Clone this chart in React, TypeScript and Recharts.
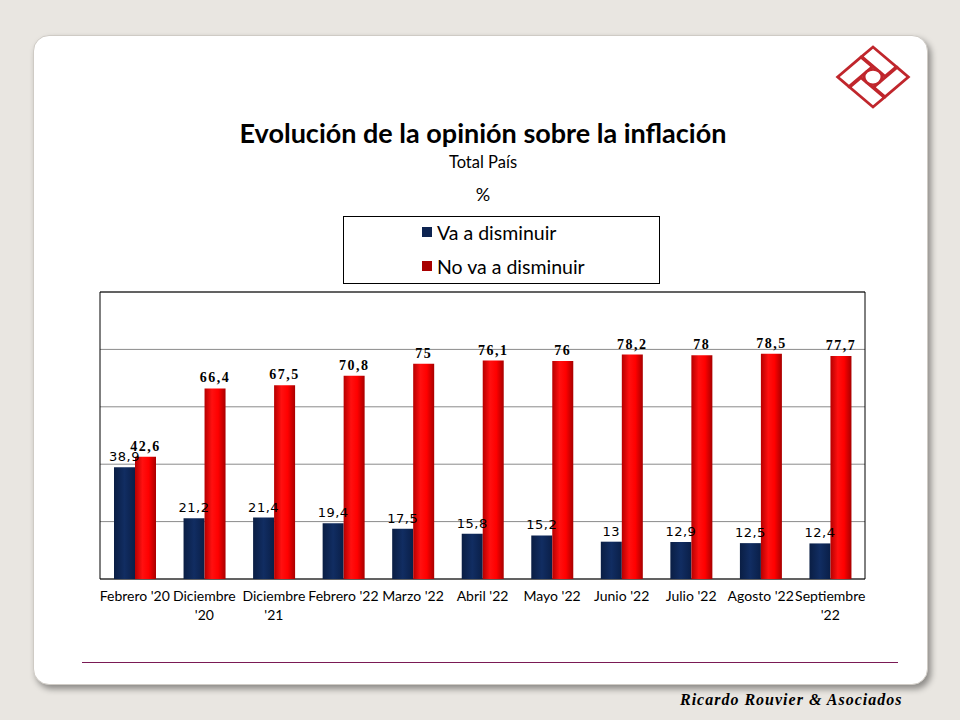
import React from "react";
import { BarChart, Bar, XAxis, YAxis, CartesianGrid, LabelList, ReferenceArea } from "recharts";

const categories = ["Febrero '20", "Diciembre '20", "Diciembre '21", "Febrero '22", "Marzo '22", "Abril '22", "Mayo '22", "Junio '22", "Julio '22", "Agosto '22", "Septiembre '22"];
const vaADisminuir = [38.9, 21.2, 21.4, 19.4, 17.5, 15.8, 15.2, 13, 12.9, 12.5, 12.4];
const noVaADisminuir = [42.6, 66.4, 67.5, 70.8, 75, 76.1, 76, 78.2, 78, 78.5, 77.7];
const seriesNames = ["Va a disminuir", "No va a disminuir"];
const seriesColors = ["#0d2451", "#a80000"];
const yTicks = [0, 20, 40, 60, 80, 100];

const data = categories.map((c, i) => ({ name: c, va: vaADisminuir[i], no: noVaADisminuir[i] }));

const fmt = (v: any) => String(v).replace(".", ",");

const WrapTick = (props: any) => {
  const { x, y, payload } = props;
  const s: string = payload.value;
  let lines = [s];
  if (s.length > 11) {
    const idx = s.lastIndexOf(" ");
    lines = [s.slice(0, idx), s.slice(idx + 1)];
  }
  return (
    <g transform={`translate(${x},${y})`}>
      <text textAnchor="middle" fontFamily="Lato, 'Open Sans', sans-serif" fontSize={14} fill="#000">
        {lines.map((l, i) => (
          <tspan key={i} x={0} y={22 + i * 19}>{l}</tspan>
        ))}
      </text>
    </g>
  );
};

const LegendBox = () => (
  <div style={{ position: "absolute", left: 343, top: 216, width: 315, height: 66, border: "1px solid #000", background: "#fff" }}>
    {seriesNames.map((n, i) => (
      <div key={i} style={{ position: "absolute", left: 78, top: 4 + i * 34, height: 22, display: "flex", alignItems: "center", fontFamily: "Lato, sans-serif", fontSize: 19.5, color: "#000", whiteSpace: "nowrap" }}>
        <span style={{ display: "inline-block", width: 10, height: 10, background: seriesColors[i], marginRight: 5 }} />
        {n}
      </div>
    ))}
  </div>
);

const Logo = () => (
  <svg width={90} height={80} style={{ position: "absolute", left: 828, top: 37 }}>
    <g transform="translate(45,40) scale(1,0.85) rotate(45)" fill="none" stroke="#c0262c" strokeWidth={3}>
      <rect x={-25} y={-25} width={33} height={16} />
      <rect x={9} y={-25} width={16} height={33} />
      <rect x={-8} y={9} width={33} height={16} />
      <rect x={-25} y={-8} width={16} height={33} />
      <circle cx={0} cy={0} r={9} fill="#fff" />
    </g>
  </svg>
);

export default function App() {
  return (
    <div style={{ position: "absolute", left: 0, top: 0, width: 960, height: 720, background: "#e9e6e1", overflow: "hidden" }}>
      <div style={{ position: "absolute", left: 33, top: 35, width: 895, height: 650, background: "#fff", borderRadius: 16, boxShadow: "3px 4px 6px rgba(0,0,0,0.4)", border: "1px solid #cfcbc5", boxSizing: "border-box" }} />
      <Logo />
      <div style={{ position: "absolute", left: 0, width: 966, top: 116, textAlign: "center", fontFamily: "Lato, sans-serif", fontWeight: 700, fontSize: 27, color: "#000" }}>
        Evolución de la opinión sobre la inflación
      </div>
      <div style={{ position: "absolute", left: 0, width: 966, top: 152, textAlign: "center", fontFamily: "Lato, sans-serif", fontSize: 16.5, color: "#000" }}>
        Total País
      </div>
      <div style={{ position: "absolute", left: 0, width: 966, top: 183, textAlign: "center", fontFamily: "Lato, sans-serif", fontSize: 18, color: "#000" }}>
        %
      </div>
      <LegendBox />
      <div style={{ position: "absolute", left: 0, top: 0 }}>
        <BarChart width={960} height={720} data={data} margin={{ top: 292, left: 100, right: 95, bottom: 111 }} barGap={0} barSize={21}>
          <defs>
            <linearGradient id="gBlue" x1="0" y1="0" x2="1" y2="0">
              <stop offset="0%" stopColor="#0a1e44" />
              <stop offset="50%" stopColor="#112d62" />
              <stop offset="100%" stopColor="#0a1f48" />
            </linearGradient>
            <linearGradient id="gRed" x1="0" y1="0" x2="1" y2="0">
              <stop offset="0%" stopColor="#b50000" />
              <stop offset="35%" stopColor="#ff1010" />
              <stop offset="65%" stopColor="#ff0000" />
              <stop offset="100%" stopColor="#a80000" />
            </linearGradient>
          </defs>
          <CartesianGrid vertical={false} stroke="#8a8a8a" strokeWidth={1} />
          <XAxis dataKey="name" height={30} axisLine={false} tickLine={false} tickSize={0} tickMargin={0} interval={0} tick={<WrapTick />} />
          <YAxis hide domain={[0, 100]} ticks={yTicks} />
          <ReferenceArea y1={0} y2={100} fill="none" stroke="#000" strokeWidth={1} fillOpacity={0} ifOverflow="visible" />
          <Bar dataKey="va" name={seriesNames[0]} fill="url(#gBlue)" isAnimationActive={false}>
            <LabelList dataKey="va" position="top" offset={6} formatter={fmt} style={{ fontFamily: "'DejaVu Sans', sans-serif", fontSize: 13, fill: "#000", letterSpacing: 0.5 }} />
          </Bar>
          <Bar dataKey="no" name={seriesNames[1]} fill="url(#gRed)" isAnimationActive={false}>
            <LabelList dataKey="no" position="top" offset={6} formatter={fmt} style={{ fontFamily: "'Liberation Serif', serif", fontWeight: 700, fontSize: 14, fill: "#000", letterSpacing: 1.5 }} />
          </Bar>
        </BarChart>
      </div>
      <div style={{ position: "absolute", left: 82, top: 662, width: 816, height: 1, background: "#7a1a55" }} />
      <div style={{ position: "absolute", left: 680, top: 691, fontFamily: "'Liberation Serif', serif", fontStyle: "italic", fontWeight: 700, fontSize: 16, letterSpacing: 1, color: "#000", whiteSpace: "nowrap" }}>
        Ricardo Rouvier &amp; Asociados
      </div>
    </div>
  );
}
